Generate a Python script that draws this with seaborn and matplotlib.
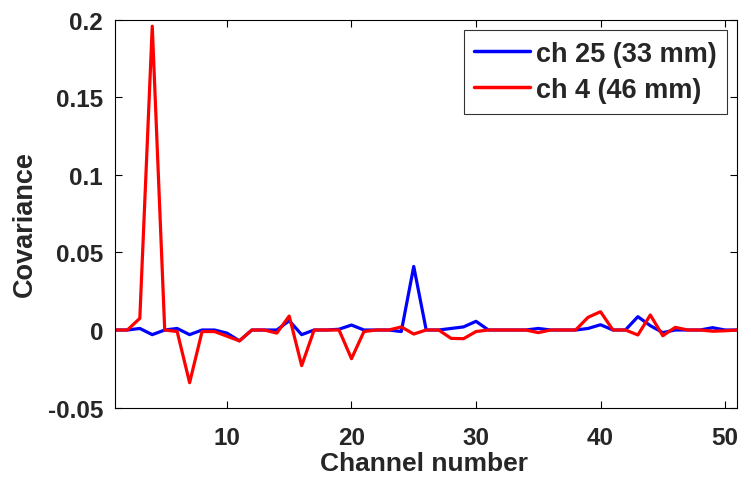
import numpy as np
import pandas as pd
import matplotlib
matplotlib.use("Agg")
import matplotlib.pyplot as plt
import seaborn as sns

channels = list(range(1, 52))

ch25_cov = [0, 0, 0.001, -0.003, 0, 0.001, -0.003, 0, 0, -0.002,
            -0.007, 0, 0, 0, 0.006, -0.003, 0, 0, 0.0005, 0.0032,
            0, 0, 0, -0.001, 0.041, 0, 0, 0.001, 0.002, 0.0056,
            0, 0, 0, 0, 0.001, 0, 0, 0, 0.001, 0.0034,
            0, 0, 0.0086, 0.0028, -0.0017, 0, 0, 0, 0.0015, 0,
            0]

ch4_cov = [0, 0, 0.0075, 0.196, 0, -0.001, -0.034, -0.001, -0.001, -0.004,
           -0.007, 0, 0, -0.002, 0.009, -0.023, 0, 0, 0, -0.0185,
           -0.001, 0, 0, 0.002, -0.0026, 0, 0, -0.0054, -0.0056, -0.001,
           0, 0, 0, 0, -0.0017, 0, 0, 0, 0.0082, 0.0118,
           0, 0, -0.0032, 0.0097, -0.0037, 0.0017, 0, 0, -0.0008, -0.0005,
           0]

series_labels = ["ch 25 (33 mm)", "ch 4 (46 mm)"]
series_colors = ["#0000ff", "#ff0000"]

xticks = [10, 20, 30, 40, 50]
yticks = [-0.05, 0, 0.05, 0.1, 0.15, 0.2]
ytick_labels = ["-0.05", "0", "0.05", "0.1", "0.15", "0.2"]

df = pd.concat([
    pd.DataFrame({"Channel": channels, "Covariance": ch25_cov, "series": series_labels[0]}),
    pd.DataFrame({"Channel": channels, "Covariance": ch4_cov, "series": series_labels[1]}),
])

sns.set_style("white")
plt.rcParams["font.family"] = ["Liberation Sans", "DejaVu Sans"]
plt.rcParams["font.weight"] = "bold"

fig = plt.figure(figsize=(7.51, 4.89), dpi=100)
ax = fig.add_axes([0.153, 0.1646, 0.829, 0.7925])

sns.lineplot(data=df, x="Channel", y="Covariance", hue="series",
             hue_order=series_labels, palette=series_colors,
             linewidth=2.3, ax=ax)

ax.set_xlim(1, 51)
ax.set_ylim(-0.05, 0.2)
ax.set_xticks(xticks)
ax.set_xticklabels([str(t) for t in xticks], fontsize=17.5, fontweight="bold")
ax.set_yticks(yticks)
ax.set_yticklabels(ytick_labels, fontsize=17.5, fontweight="bold")
ax.tick_params(direction="in", length=5, width=0.8, color="black",
               top=True, right=True, bottom=True, left=True)
ax.tick_params(axis="x", pad=13)
ax.tick_params(axis="y", pad=8.5)
for s in ax.spines.values():
    s.set_color("black")
    s.set_linewidth(0.8)

ax.set_xlabel("Channel number", fontsize=19, fontweight="bold")
ax.set_ylabel("Covariance", fontsize=19.5, fontweight="bold")
ax.xaxis.set_label_coords(0.497, -0.112)
ax.yaxis.set_label_coords(-0.124, 0.475)

leg = ax.legend(loc="upper right", fontsize=19.5, frameon=True, fancybox=False,
                edgecolor="black", handlelength=2.07, borderaxespad=0.37,
                labelspacing=0.37, handletextpad=0.2, borderpad=0.4)
leg.get_frame().set_linewidth(0.8)
for t in leg.get_texts():
    t.set_fontweight("bold")
for l in leg.get_lines():
    l.set_linewidth(2.5)

fig.savefig("out.png", dpi=100)
